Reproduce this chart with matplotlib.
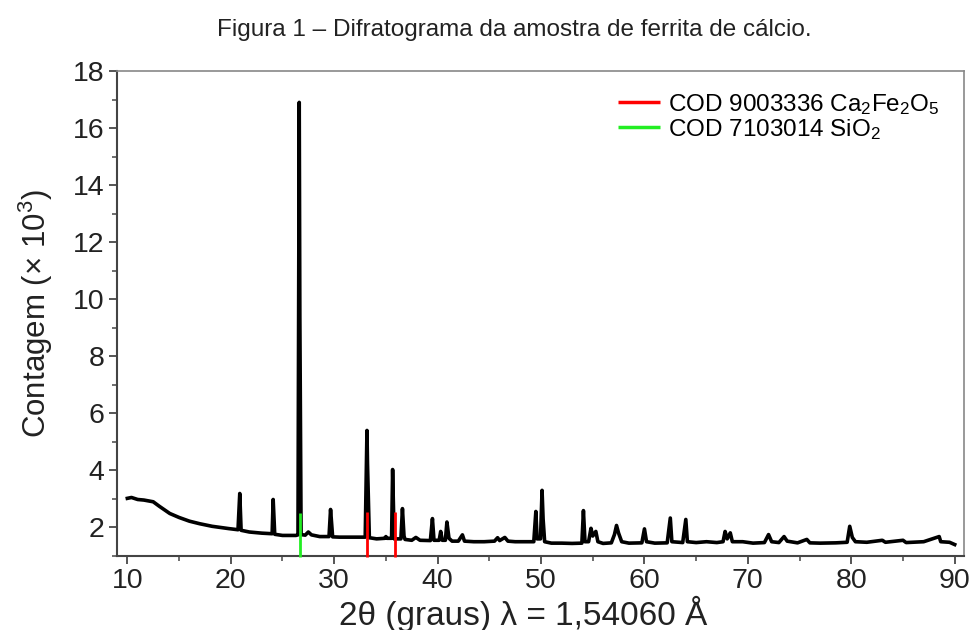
import matplotlib
matplotlib.use("Agg")
import matplotlib.pyplot as plt
from matplotlib.ticker import MultipleLocator

plt.rcParams['font.family'] = ['Liberation Sans', 'DejaVu Sans']
plt.rcParams['mathtext.default'] = 'regular'

# XRD pattern (2theta in degrees, counts x 10^3)
two_theta = [
    10.0, 10.4, 11.0, 11.6, 12.5, 13.1, 14.1, 15.0, 16.0, 17.0, 18.2, 19.8, 20.7,
    20.87, 21.0, 21.8, 23.0, 24.0, 24.1, 24.25, 25.0, 26.3, 26.5,
    26.62, 26.68, 26.8, 27.2, 27.5, 27.8, 28.6,
    29.5, 29.65, 29.85, 30.5, 31.8, 32.6, 33.0,
    33.17, 33.22, 33.4, 34.1, 34.9, 35.0, 35.1, 35.55,
    35.65, 35.8, 36.45, 36.6, 36.75, 36.85, 37.5, 37.9, 38.3, 39.3,
    39.5, 39.65, 40.15, 40.3, 40.45, 40.75, 40.9, 41.1, 41.4,
    42.0, 42.4, 42.6, 43.5, 44.5, 45.5, 45.8, 46.0, 46.5, 46.8, 47.5, 48.5, 49.3,
    49.5, 49.62, 49.95, 50.1, 50.2, 50.35, 51.0, 52.0, 53.0, 53.95,
    54.1, 54.25, 54.6, 54.83, 55.0, 55.3, 55.5, 56.0, 56.8, 57.1, 57.3, 57.5, 57.8,
    58.5, 59.75, 60.0, 60.2, 61.0, 62.2, 62.5, 62.65, 63.7, 64.0, 64.15,
    65.0, 66.0, 67.0, 67.6, 67.8, 68.0, 68.3, 68.5, 69.5, 70.5, 71.6, 72.0, 72.3,
    73.0, 73.5, 73.8, 74.8, 75.7, 76.0, 77.0, 78.5, 79.6, 79.85, 80.1, 80.4,
    81.5, 83.0, 83.3, 85.0, 85.3, 87.0, 88.5, 88.65, 89.5, 90.0,
]
counts = [
    3.02, 3.05, 2.98, 2.96, 2.90, 2.74, 2.49, 2.35, 2.22, 2.13, 2.04, 1.96, 1.92,
    3.19, 1.90, 1.84, 1.80, 1.78, 2.98, 1.76, 1.72, 1.72, 1.74,
    16.9, 9.4, 1.75, 1.73, 1.84, 1.74, 1.68,
    1.68, 2.63, 1.67, 1.66, 1.66, 1.66, 1.66,
    5.4, 4.25, 1.64, 1.60, 1.62, 1.68, 1.62, 1.62,
    4.03, 1.60, 1.60, 2.66, 1.70, 1.58, 1.55, 1.65, 1.55, 1.54,
    2.31, 1.55, 1.55, 1.86, 1.55, 1.55, 2.19, 1.62, 1.52,
    1.52, 1.74, 1.52, 1.50, 1.50, 1.52, 1.64, 1.54, 1.65, 1.52, 1.50, 1.50, 1.50,
    2.56, 1.60, 1.60, 3.30, 2.30, 1.50, 1.45, 1.45, 1.44, 1.45,
    2.59, 1.50, 1.50, 1.97, 1.70, 1.86, 1.50, 1.44, 1.46, 1.75, 2.07, 1.80, 1.50,
    1.45, 1.46, 1.95, 1.50, 1.45, 1.46, 2.33, 1.50, 1.47, 2.28, 1.50,
    1.47, 1.50, 1.47, 1.50, 1.86, 1.60, 1.81, 1.50, 1.50, 1.45, 1.47, 1.75, 1.50,
    1.47, 1.68, 1.52, 1.46, 1.58, 1.46, 1.45, 1.46, 1.48, 2.04, 1.65, 1.50,
    1.48, 1.55, 1.48, 1.55, 1.47, 1.50, 1.68, 1.50, 1.48, 1.40,
]

# reference patterns (stick positions and heights)
cod_cafe = [33.2, 35.87]
cod_cafe_h = [2.55, 2.55]
cod_sio2 = [26.65]
cod_sio2_h = [2.5]

fig = plt.figure(figsize=(9.71, 6.30), dpi=100)
ax = fig.add_axes([0.1205, 0.1175, 0.8723, 0.7698])

ax.plot(two_theta, counts, color='black', lw=2.6, solid_joinstyle='round', zorder=2)
ax.vlines(cod_cafe, 0.95, cod_cafe_h, color='#ff0000', lw=2.0, zorder=3,
          label='COD 9003336 Ca$_2$Fe$_2$O$_5$', clip_on=False)
ax.vlines(cod_sio2, 0.95, cod_sio2_h, color='#22ee22', lw=2.0, zorder=3,
          label='COD 7103014 SiO$_2$', clip_on=False)

ax.set_xlim(9, 90.9)
ax.set_ylim(1, 18)
ax.xaxis.set_major_locator(MultipleLocator(10))
ax.xaxis.set_minor_locator(MultipleLocator(5))
ax.yaxis.set_minor_locator(MultipleLocator(1))
ax.set_yticks(range(2, 19, 2))

for s in ['left', 'bottom']:
    ax.spines[s].set_color('#444444')
    ax.spines[s].set_linewidth(1.5)
for s in ['top', 'right']:
    ax.spines[s].set_color('#888888')
    ax.spines[s].set_linewidth(1.2)

ax.tick_params(which='major', direction='out', length=6, width=1.4, color='#555555',
               labelsize=20.5, labelcolor='#222222', pad=3)
ax.tick_params(which='minor', direction='out', length=3.5, width=1.2, color='#555555')

ax.set_xlabel('2θ (graus) λ = 1,54060 Å', fontsize=24, color='#222222', labelpad=0)
ax.xaxis.set_label_coords(0.48, -0.082)
ax.xaxis.label.set_va('top')
ax.set_ylabel('Contagem (× 10$^3$)', fontsize=22.5, color='#222222', labelpad=13)

leg = ax.legend(loc='upper left', bbox_to_anchor=(0.591, 0.957), frameon=False,
                fontsize=17.5, handlelength=1.75, handletextpad=0.33,
                labelspacing=0.0, borderpad=0, borderaxespad=0)
for line in leg.get_lines():
    line.set_linewidth(2.5)

fig.text(0.53, 0.952, 'Figura 1 – Difratograma da amostra de ferrita de cálcio.',
         ha='center', va='center', fontsize=17.5, color='#222222')

fig.savefig('out.png', dpi=100)
